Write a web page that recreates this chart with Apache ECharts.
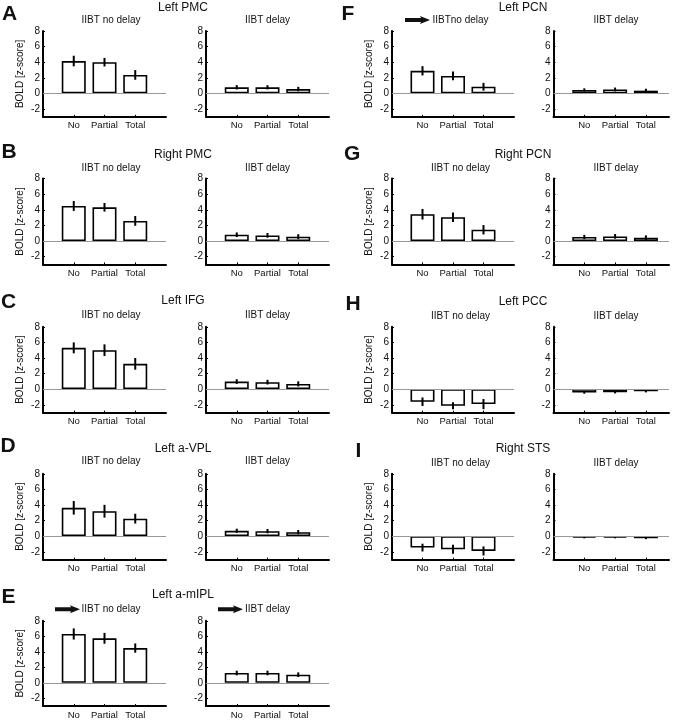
<!DOCTYPE html>
<html><head><meta charset="utf-8">
<script src="https://cdn.jsdelivr.net/npm/echarts@6/dist/echarts.min.js"></script>
<style>html,body{margin:0;padding:0;background:#fff}#chart{width:679px;height:720px}</style>
</head><body><div id="chart"></div>
<script>
// ---------- data ----------
const categories = ['No', 'Partial', 'Total'];
const panelLetters = ['A', 'B', 'C', 'D', 'E', 'F', 'G', 'H', 'I'];
const regionTitles = ['Left PMC', 'Right PMC', 'Left IFG', 'Left a-VPL', 'Left a-mIPL',
                      'Left PCN', 'Right PCN', 'Left PCC', 'Right STS'];
const noDelayLabels = ['IIBT no delay', 'IIBT no delay', 'IIBT no delay', 'IIBT no delay', 'IIBT no delay',
                       'IIBTno delay', 'IIBT no delay', 'IIBT no delay', 'IIBT no delay'];
const delayLabel = 'IIBT delay';
const yAxisName = 'BOLD [z-score]';
const yTickValues = [-2, 0, 2, 4, 6, 8];

const noDelayMean = [
  [4.15, 4.00, 2.37],
  [4.49, 4.32, 2.58],
  [5.30, 5.00, 3.25],
  [3.64, 3.20, 2.25],
  [6.30, 5.74, 4.48],
  [2.90, 2.24, 0.85],
  [3.43, 3.05, 1.44],
  [-1.61, -2.13, -1.91],
  [-1.46, -1.68, -1.89]
];
const noDelayErr = [
  [0.68, 0.55, 0.62],
  [0.63, 0.55, 0.63],
  [0.70, 0.75, 0.75],
  [0.87, 0.82, 0.63],
  [0.72, 0.70, 0.60],
  [0.60, 0.56, 0.50],
  [0.68, 0.61, 0.60],
  [0.55, 0.45, 0.65],
  [0.50, 0.58, 0.58]
];
const delayMean = [
  [0.78, 0.78, 0.56],
  [0.80, 0.72, 0.55],
  [0.98, 0.90, 0.68],
  [0.69, 0.65, 0.52],
  [1.26, 1.26, 1.04],
  [0.45, 0.50, 0.35],
  [0.51, 0.59, 0.42],
  [-0.43, -0.39, -0.26],
  [-0.17, -0.17, -0.26]
];
const delayErr = [
  [0.28, 0.27, 0.28],
  [0.30, 0.30, 0.32],
  [0.30, 0.30, 0.33],
  [0.27, 0.28, 0.28],
  [0.30, 0.30, 0.30],
  [0.20, 0.25, 0.25],
  [0.28, 0.30, 0.30],
  [0.15, 0.15, 0.15],
  [0.10, 0.10, 0.12]
];

// ---------- layout ----------
const FONT = '"Liberation Sans", Arial, Helvetica, sans-serif';
const rowTop = [31, 178.6, 326.8, 473.8, 620.8];
const gridH = 85.8;
const cols = [
  { nd: { left: 43, width: 123, max: 4 }, d: { left: 206, width: 123, max: 4 }, titleX: 183, ndSubX: 111, dSubX: 267.5 },
  { nd: { left: 392, width: 122, max: 4 }, d: { left: 553.5, width: 115.5, max: 3.75 }, titleX: 523, ndSubX: 460.5, dSubX: 616 }
];
const letterX = [2, 1.5, 1, 0.5, 1.5, 341.5, 344, 345.5, 355.5];
const letterY = [14, 152.5, 302, 446.5, 597, 14, 154.5, 304, 451];
const titleY = [8, 154.3, 300.7, 448.3, 595, 8, 154.3, 301.7, 449];
const subY = [20, 168.3, 315, 461.7, 609.3, 20, 168.3, 316, 463.3];

const grids = [], xAxes = [], yAxes = [], series = [], graphics = [];

function txt(text, x, y, size, weight, align) {
  return { type: 'text', z: 10, style: {
    text: text, x: x, y: y, fill: '#111', font: (weight || 'normal') + ' ' + size + 'px ' + FONT,
    fontSize: size, fontWeight: weight || 'normal', fontFamily: FONT,
    align: align || 'center', textAlign: align || 'center',
    verticalAlign: 'middle', textVerticalAlign: 'middle'
  } };
}
function arrow(x0, yc) {
  return { type: 'polygon', z: 10, shape: { points: [
    [x0, yc - 2], [x0 + 16, yc - 2], [x0 + 15, yc - 4], [x0 + 25, yc],
    [x0 + 15, yc + 4], [x0 + 16, yc + 2], [x0, yc + 2]
  ] }, style: { fill: '#111' } };
}

for (let p = 0; p < 9; p++) {
  const col = p < 5 ? 0 : 1;
  const row = p < 5 ? p : p - 5;
  const c = cols[col];
  graphics.push(txt(panelLetters[p], letterX[p], letterY[p], 21, 'bold', 'left'));
  graphics.push(txt(regionTitles[p], c.titleX, titleY[p], 12));
  graphics.push(txt(noDelayLabels[p], c.ndSubX, subY[p], 10));
  graphics.push(txt(delayLabel, c.dSubX, subY[p], 10));

  [0, 1].forEach(function (s) {
    const k = p * 2 + s;
    const g = s === 0 ? c.nd : c.d;
    const means = s === 0 ? noDelayMean[p] : delayMean[p];
    const errs = s === 0 ? noDelayErr[p] : delayErr[p];
    grids.push({ left: g.left, top: rowTop[row], width: g.width, height: gridH });
    xAxes.push({
      gridIndex: k, type: 'value', min: 0, max: g.max,
      axisLine: { show: true, onZero: false, lineStyle: { color: '#000', width: 2 } },
      axisTick: { show: true, inside: true, length: 2, customValues: [1, 2, 3], lineStyle: { color: '#000', width: 1 } },
      axisLabel: { customValues: [1, 2, 3], formatter: function (v) { return categories[Math.round(v) - 1] || ''; },
                   fontSize: 9.5, color: '#111', margin: 4, fontFamily: FONT },
      splitLine: { show: false }
    });
    yAxes.push({
      gridIndex: k, type: 'value', min: -3, max: 8,
      axisLine: { show: true, onZero: false, lineStyle: { color: '#000', width: 2 } },
      axisTick: { show: true, inside: true, length: 2, customValues: yTickValues, lineStyle: { color: '#000', width: 1 } },
      axisLabel: { customValues: yTickValues, fontSize: 10, color: '#111', margin: 3, fontFamily: FONT },
      splitLine: { show: false },
      name: s === 0 ? yAxisName : '', nameLocation: 'middle', nameGap: 18,
      nameTextStyle: { fontSize: 10, color: '#111', fontFamily: FONT }
    });
    series.push({
      type: 'bar', xAxisIndex: k, yAxisIndex: k, barWidth: 24,
      data: means.map(function (v, i) { return [i + 1, v]; }),
      itemStyle: { color: '#fff', borderColor: '#000', borderWidth: 1.6 },
      markLine: { silent: true, symbol: ['none', 'none'], label: { show: false },
                  lineStyle: { color: '#999', width: 1, type: 'solid' }, data: [{ yAxis: 0 }] },
      z: 2
    });
    series.push({
      type: 'custom', xAxisIndex: k, yAxisIndex: k, z: 4,
      encode: { x: 0, y: 1 },
      data: means.map(function (v, i) { return [i + 1, v, errs[i]]; }),
      renderItem: function (params, api) {
        const x = api.value(0), m = api.value(1), e = api.value(2);
        const a = api.coord([x, m - e]), b = api.coord([x, m + e]);
        return { type: 'line', shape: { x1: a[0], y1: a[1], x2: b[0], y2: b[1] },
                 style: { stroke: '#000', lineWidth: 2 } };
      }
    });
  });
}
// arrows (E both subplots, F no-delay)
graphics.push(arrow(55, 609.3));
graphics.push(arrow(218, 609.3));
graphics.push(arrow(405, 20));

const chart = echarts.init(document.getElementById('chart'), null, { renderer: 'canvas' });
chart.setOption({
  animation: false,
  backgroundColor: '#fff',
  textStyle: { fontFamily: FONT },
  grid: grids, xAxis: xAxes, yAxis: yAxes, series: series, graphic: graphics
});
</script></body></html>
